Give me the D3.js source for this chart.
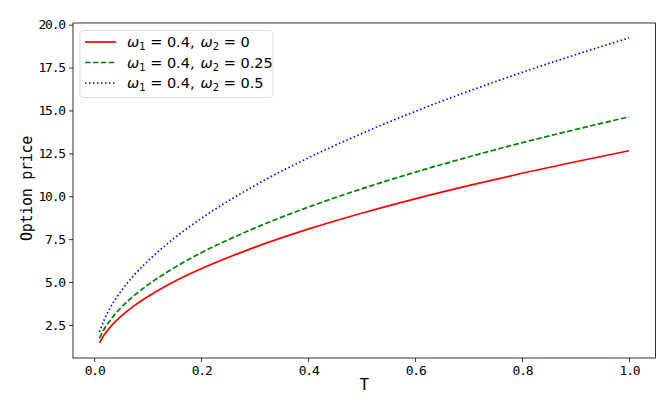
<!DOCTYPE html>
<html>
<head>
<meta charset="utf-8">
<script src="https://cdn.jsdelivr.net/npm/d3@7"></script>
<style>
  body { margin: 0; background: #fff; }
  svg { display: block; }
</style>
</head>
<body>
<div id="svg"></div>
<script>
// values
var T = [0.01, 0.02, 0.03, 0.05, 0.075, 0.1, 0.15, 0.2, 0.3, 0.4, 0.5, 0.6, 0.7, 0.8, 0.9, 1.0];
var price0 = [1.45, 1.97, 2.36, 2.99, 3.62, 4.14, 5.03, 5.77, 7.02, 8.08, 9.01, 9.85, 10.62, 11.34, 12.01, 12.65];
var price25 = [1.72, 2.32, 2.77, 3.50, 4.22, 4.82, 5.84, 6.70, 8.14, 9.36, 10.43, 11.40, 12.29, 13.12, 13.89, 14.63];
var price50 = [2.09, 2.88, 3.49, 4.45, 5.41, 6.21, 7.56, 8.70, 10.62, 12.23, 13.65, 14.94, 16.12, 17.22, 18.25, 19.23];
var w2Labels = ["0", "0.25", "0.5"];
var xTicks = [0, 0.2, 0.4, 0.6, 0.8, 1.0];
var yTicks = [2.5, 5, 7.5, 10, 12.5, 15, 17.5, 20];

var series = [
    { values: price0, w2: w2Labels[0], color: "#ff0000", dash: null },
    { values: price25, w2: w2Labels[1], color: "#008000", dash: "5.5,2.4" },
    { values: price50, w2: w2Labels[2], color: "#0000ff", dash: "1.5,2.5" }
];

// set the dimensions and margins of the graph
var W = 672, H = 394;
var margin = { top: 23, right: 16.5, bottom: 36, left: 73 },
    width = W - margin.left - margin.right,
    height = H - margin.top - margin.bottom;

// matplotlib style 5% padding
var x = d3.scaleLinear().domain([-0.0395, 1.0495]).range([0, width]);
var y = d3.scaleLinear().domain([0.57, 20.1]).range([height, 0]);

var svg = d3.select("#svg").append("svg")
    .attr("width", W)
    .attr("height", H);

var g = svg.append("g")
    .attr("transform", "translate(" + margin.left + "," + margin.top + ")");

var tickFont = "'DejaVu Sans Mono', monospace";

// x axis
var xAxis = g.append("g")
    .attr("transform", "translate(0," + height + ")")
    .call(d3.axisBottom(x).tickValues(xTicks).tickSize(4).tickPadding(4)
        .tickFormat(d3.format(".1f")));

// y axis
var yAxis = g.append("g")
    .call(d3.axisLeft(y).tickValues(yTicks).tickSize(4).tickPadding(4)
        .tickFormat(d3.format(".1f")));

[xAxis, yAxis].forEach(function(a) {
    a.select(".domain").remove();
    a.selectAll("line").attr("stroke", "#000").attr("stroke-width", 0.8);
    a.selectAll("text")
        .style("font-family", tickFont)
        .style("font-size", "13px")
        .style("letter-spacing", "-1.2px")
        .attr("fill", "#000");
});

// lines
var line = d3.line()
    .x(function(d, i) { return x(T[i]); })
    .y(function(d) { return y(d); })
    .curve(d3.curveMonotoneX);

series.forEach(function(s) {
    g.append("path")
        .datum(s.values)
        .attr("fill", "none")
        .attr("stroke", s.color)
        .attr("stroke-width", 1.7)
        .attr("stroke-dasharray", s.dash)
        .attr("d", line);
});

// frame
g.append("rect")
    .attr("width", width)
    .attr("height", height)
    .attr("fill", "none")
    .attr("stroke", "#000")
    .attr("stroke-width", 0.8);

// axis labels
svg.append("text")
    .attr("x", margin.left + width / 2)
    .attr("y", 390)
    .attr("text-anchor", "middle")
    .style("font-family", tickFont)
    .style("font-size", "16px")
    .text("T");

svg.append("text")
    .attr("transform", "translate(32," + (margin.top + height / 2 - 2) + ") rotate(-90)")
    .attr("text-anchor", "middle")
    .style("font-family", tickFont)
    .style("font-size", "15px")
    .style("letter-spacing", "-0.3px")
    .text("Option price");

// legend
var legend = svg.append("g").attr("transform", "translate(80,30.5)");
legend.append("rect")
    .attr("width", 193)
    .attr("height", 67)
    .attr("rx", 3)
    .attr("fill", "#fff")
    .attr("fill-opacity", 0.8)
    .attr("stroke", "#d0d0d0")
    .attr("stroke-width", 0.8);

series.forEach(function(s, i) {
    var ry = 11.5 + i * 20.5;
    legend.append("line")
        .attr("x1", 5).attr("x2", 36)
        .attr("y1", ry).attr("y2", ry)
        .attr("stroke", s.color)
        .attr("stroke-width", 1.7)
        .attr("stroke-dasharray", s.dash);
    var t = legend.append("text")
        .attr("x", 47)
        .attr("y", ry + 5)
        .style("font-family", "'DejaVu Sans', sans-serif")
        .style("font-size", "14.5px")
        .attr("fill", "#000");
    t.append("tspan").style("font-style", "italic").text("ω");
    t.append("tspan").attr("dy", 3).style("font-size", "10px").text("1");
    t.append("tspan").attr("dy", -3).text(" = 0.4,");
    t.append("tspan").attr("dx", 6).style("font-style", "italic").text("ω");
    t.append("tspan").attr("dy", 3).style("font-size", "10px").text("2");
    t.append("tspan").attr("dy", -3).text(" = " + s.w2);
});
</script>
</body>
</html>
